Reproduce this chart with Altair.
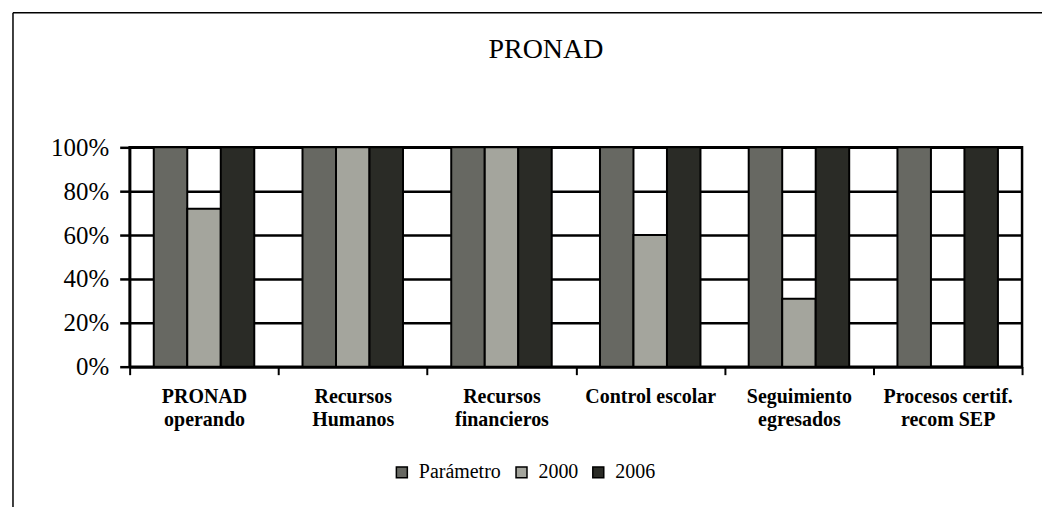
import altair as alt
import pandas as pd

categories = ["PRONAD|operando", "Recursos|Humanos", "Recursos|financieros",
              "Control escolar", "Seguimiento|egresados", "Procesos certif.|recom SEP"]
series = ["Parámetro", "2000", "2006"]
parametro = [1.00, 1.00, 1.00, 1.00, 1.00, 1.00]
v2000 = [0.72, 1.00, 1.00, 0.60, 0.31, 0.00]
v2006 = [1.00, 1.00, 1.00, 1.00, 1.00, 1.00]
colors = ["#676862", "#a4a59d", "#2a2b26"]
y_ticks = [0, 0.2, 0.4, 0.6, 0.8, 1.0]

rows = []
for i, c in enumerate(categories):
    for s, vals in zip(series, [parametro, v2000, v2006]):
        rows.append({"cat": c, "serie": s, "valor": vals[i]})
df = pd.DataFrame(rows)

FONT = "Liberation Serif"

bars = alt.Chart(df).mark_bar(stroke="black", strokeWidth=2).encode(
    x=alt.X("cat:N", sort=categories, title=None,
            scale=alt.Scale(paddingInner=0, paddingOuter=0),
            axis=alt.Axis(labelExpr="split(datum.label, '|')", labelAngle=0,
                          labelFont=FONT, labelFontSize=20, labelFontWeight="bold",
                          labelColor="black", labelLineHeight=23, labelPadding=12,
                          tickBand="extent", tickColor="black", tickWidth=2,
                          tickSize=8, domainColor="black", domainWidth=2.5,
                          labelLimit=400)),
    xOffset=alt.XOffset("serie:N", sort=series,
                        scale=alt.Scale(paddingOuter=0.72, paddingInner=0)),
    y=alt.Y("valor:Q", title=None,
            scale=alt.Scale(domain=[0, 1]),
            axis=alt.Axis(values=y_ticks, format=".0%", grid=True,
                          gridColor="black", gridWidth=2.5, gridOpacity=1,
                          tickColor="black", tickWidth=2.5, tickSize=10,
                          domainColor="black", domainWidth=2.5,
                          labelFont=FONT, labelFontSize=25, labelColor="black",
                          labelPadding=11)),
    color=alt.Color("serie:N", sort=series,
                    scale=alt.Scale(domain=series, range=colors),
                    legend=alt.Legend(title=None, orient="none", direction="horizontal",
                                      legendX=263, legendY=316, padding=0,
                                      symbolType="square", symbolSize=121,
                                      symbolStrokeColor="black", symbolStrokeWidth=1.5,
                                      labelFont=FONT, labelFontSize=20,
                                      labelColor="black", labelOffset=7,
                                      columnPadding=10)),
)

frame_df = pd.DataFrame({"a": [0]})
top_line = alt.Chart(frame_df).mark_rule(color="black", strokeWidth=1.5).encode(
    x=alt.value(-117), x2=alt.value(925), y=alt.value(-135))
left_line = alt.Chart(frame_df).mark_rule(color="black", strokeWidth=1.5).encode(
    x=alt.value(-117), y=alt.value(-135), y2=alt.value(380))

chart = alt.layer(bars, top_line, left_line).properties(
    width=895, height=220,
    title=alt.TitleParams("PRONAD", font=FONT, fontSize=28, fontWeight="normal",
                          color="black", anchor="middle", offset=-52, dx=-30),
    autosize=alt.AutoSizeParams(type="none"),
    padding={"left": 122, "top": 139, "right": 20, "bottom": 140},
    background="white",
).configure_view(stroke="black", strokeWidth=2.5)

chart.save("out.html", embed_options={"renderer": "svg", "actions": False})
